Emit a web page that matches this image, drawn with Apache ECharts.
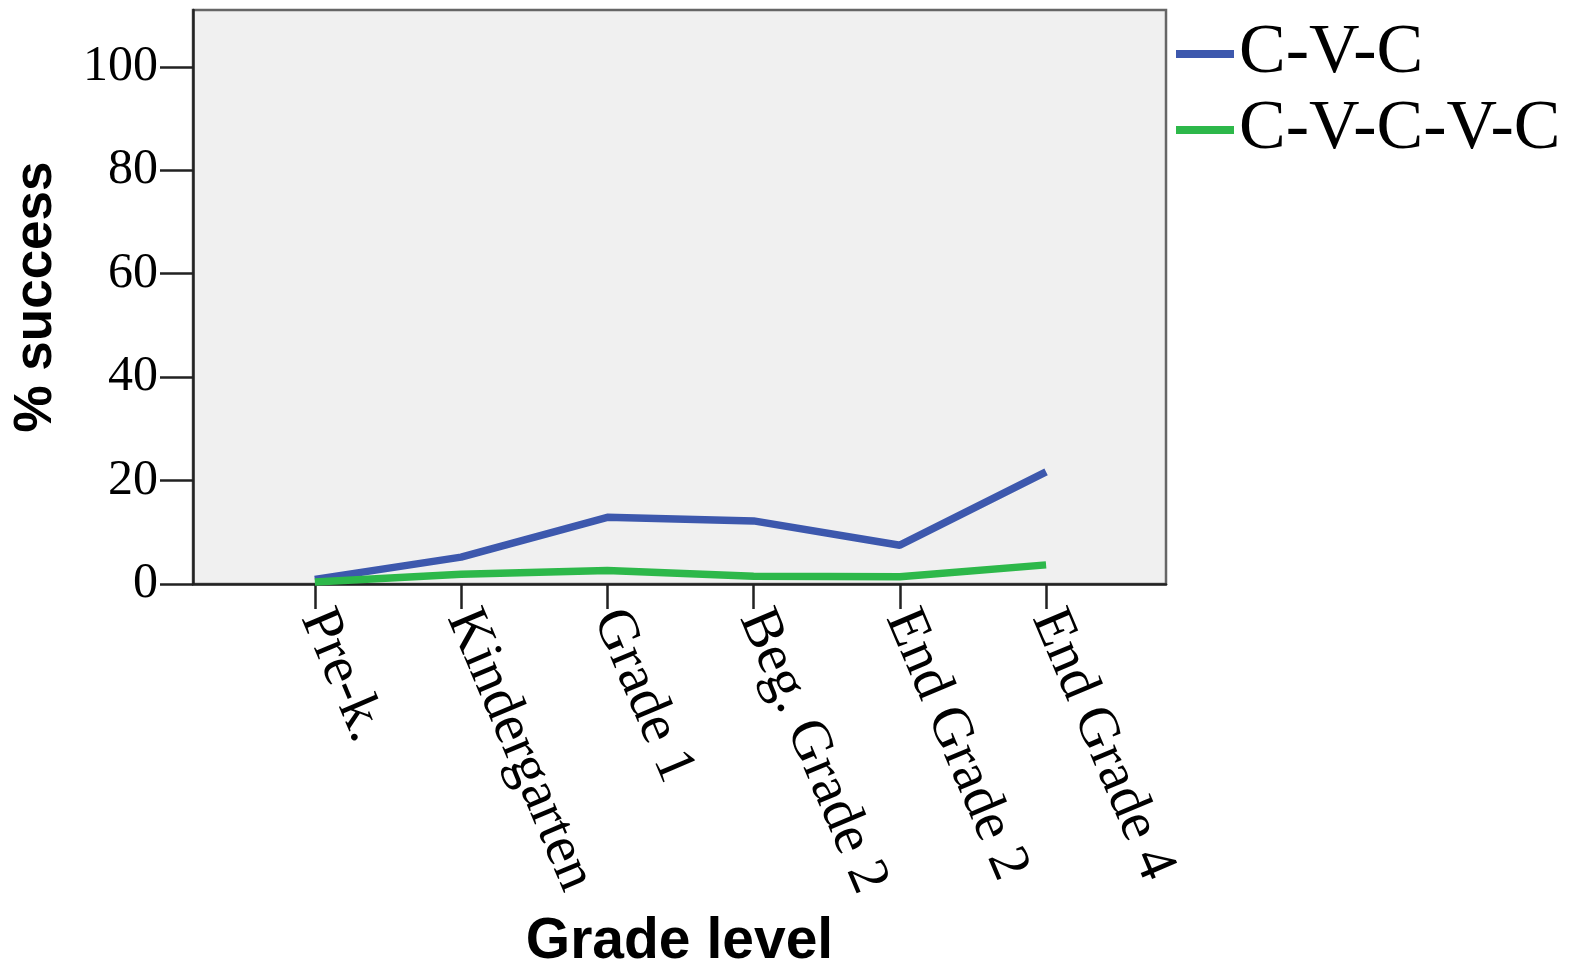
<!DOCTYPE html>
<html>
<head>
<meta charset="utf-8">
<script src="https://cdn.jsdelivr.net/npm/echarts@6/dist/echarts.min.js"></script>
<style>
html,body{margin:0;padding:0;background:#fff;}
#chart{width:1573px;height:966px;}
</style>
</head>
<body>
<div id="chart"></div>
<script>
var categories = ["Pre-k.", "Kindergarten", "Grade 1", "Beg. Grade 2", "End Grade 2", "End Grade 4"];
var cvc = [0.9, 5.2, 12.9, 12.2, 7.5, 21.7];
var cvcvc = [0.4, 1.9, 2.6, 1.5, 1.4, 3.7];
var yTicks = [0, 20, 40, 60, 80, 100];
var xTicks = [0, 1, 2, 3, 4, 5];

function pairs(arr) { return arr.map(function (v, i) { return [i, v]; }); }

var chart = echarts.init(document.getElementById('chart'));
chart.setOption({
  animation: false,
  backgroundColor: '#ffffff',
  grid: {
    left: 193, right: 407, top: 10, bottom: 382,
    outerBoundsMode: 'none',
    containLabel: false,
    show: true, backgroundColor: '#f0f0f0', borderColor: '#666666', borderWidth: 2.5
  },
  legend: {
    orient: 'vertical',
    left: 1171, top: 14,
    icon: 'rect',
    itemWidth: 58, itemHeight: 8, itemGap: 6,
    textStyle: { fontFamily: 'Liberation Serif', fontSize: 70, color: '#000', lineHeight: 68 },
    data: ['C-V-C', 'C-V-C-V-C']
  },
  xAxis: {
    type: 'value',
    min: -0.833, max: 5.82,
    name: 'Grade level',
    nameLocation: 'middle',
    nameGap: 330,
    nameTextStyle: { fontFamily: 'Liberation Sans', fontWeight: 'bold', fontSize: 57, color: '#000' },
    axisLine: { show: true, onZero: false, lineStyle: { color: '#222', width: 2.5 } },
    axisTick: { show: true, length: 25, customValues: xTicks, lineStyle: { color: '#222', width: 2.5 } },
    axisLabel: {
      customValues: xTicks,
      rotate: -67,
      margin: 28,
      fontFamily: 'Liberation Serif', fontSize: 57, color: '#000',
      formatter: function (v) { return categories[Math.round(v)]; }
    },
    splitLine: { show: false }
  },
  yAxis: {
    type: 'value',
    min: 0, max: 111,
    name: '% success',
    nameLocation: 'middle',
    nameGap: 130,
    nameRotate: 90,
    nameTextStyle: { fontFamily: 'Liberation Sans', fontWeight: 'bold', fontSize: 53, color: '#000' },
    axisLine: { show: true, onZero: false, lineStyle: { color: '#222', width: 2.5 } },
    axisTick: { show: true, length: 33, customValues: yTicks, lineStyle: { color: '#222', width: 2.5 } },
    axisLabel: {
      customValues: yTicks,
      margin: 35,
      fontFamily: 'Liberation Serif', fontSize: 50, color: '#000'
    },
    splitLine: { show: false }
  },
  series: [
    {
      name: 'C-V-C', type: 'line', data: pairs(cvc),
      symbol: 'none', lineStyle: { color: '#3d58ad', width: 7.5 }, itemStyle: { color: '#3d58ad' }
    },
    {
      name: 'C-V-C-V-C', type: 'line', data: pairs(cvcvc),
      symbol: 'none', lineStyle: { color: '#2db84a', width: 7.5 }, itemStyle: { color: '#2db84a' }
    }
  ]
});
</script>
</body>
</html>
